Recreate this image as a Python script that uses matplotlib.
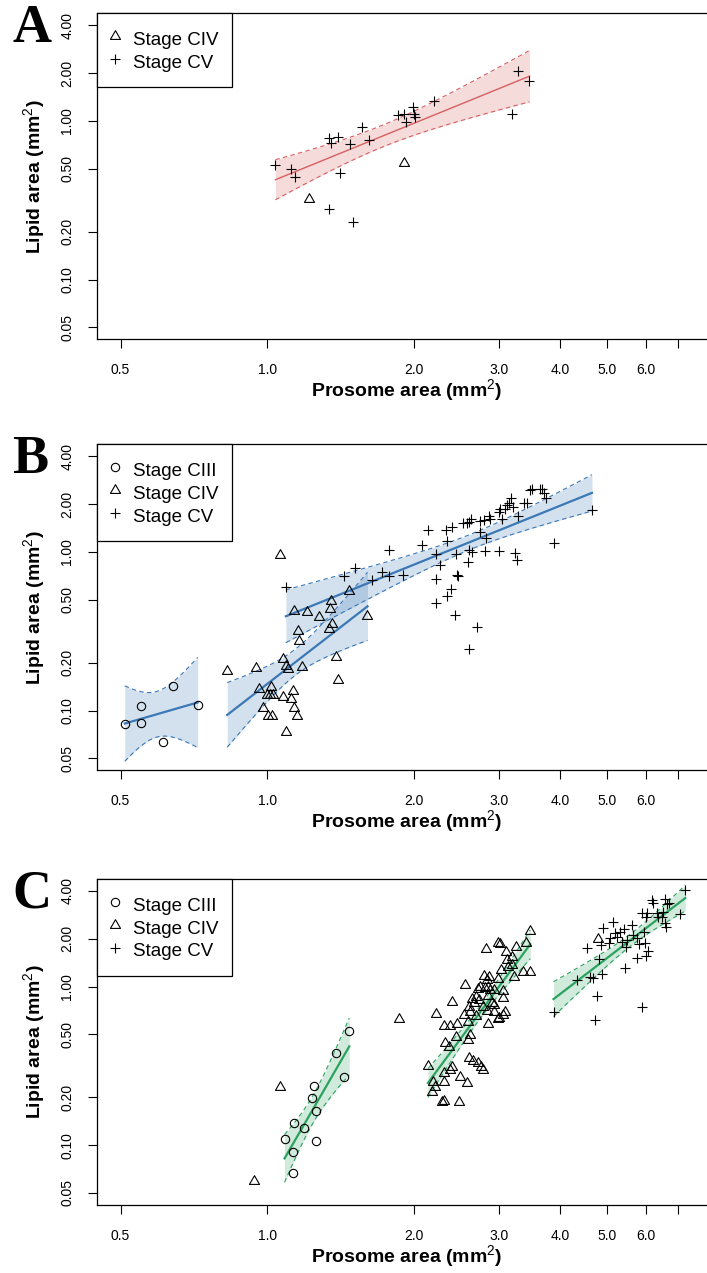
import numpy as np
import matplotlib
matplotlib.use("Agg")
import matplotlib.pyplot as plt
from matplotlib.lines import Line2D
from matplotlib.path import Path
from matplotlib.ticker import NullLocator
from math import lgamma, pi, sqrt

plt.rcParams['font.family'] = ['Liberation Sans', 'DejaVu Sans']
plt.rcParams['mathtext.fontset'] = 'custom'
plt.rcParams['mathtext.rm'] = 'Liberation Sans'

# ---- data (prosome area, lipid area; mm^2) ----
# Panel A
a_civ_x = [1.22, 1.91]
a_civ_y = [0.32, 0.54]
a_cv_x = [1.04, 1.12, 1.14, 1.34, 1.35, 1.40, 1.41, 1.48, 1.57, 1.62, 1.34, 1.50,
          1.86, 1.91, 1.93, 1.99, 2.00, 2.01, 2.20, 3.28, 3.46, 3.19]
a_cv_y = [0.53, 0.50, 0.44, 0.78, 0.73, 0.79, 0.47, 0.71, 0.91, 0.76, 0.28, 0.23,
          1.09, 1.11, 0.99, 1.22, 1.11, 1.06, 1.34, 2.07, 1.77, 1.10]

# Panel B
b_ciii_x = [0.51, 0.55, 0.55, 0.64, 0.61, 0.72]
b_ciii_y = [0.082, 0.106, 0.084, 0.143, 0.063, 0.109]
b_civ_x = [1.061, 0.828, 0.947, 0.962, 0.979, 1.004, 1.022, 1.000, 1.015, 1.027, 1.021, 1.076,
           1.092, 1.104, 1.092, 1.077, 1.122, 1.131, 1.134, 1.151, 1.138, 1.156, 1.164, 1.180,
           1.208, 1.280, 1.340, 1.345, 1.353, 1.359, 1.385, 1.397, 1.473, 1.608]
b_civ_y = [0.953, 0.178, 0.185, 0.137, 0.103, 0.092, 0.093, 0.126, 0.126, 0.126, 0.140, 0.211,
           0.192, 0.183, 0.073, 0.122, 0.118, 0.132, 0.103, 0.092, 0.425, 0.315, 0.275, 0.189,
           0.420, 0.390, 0.327, 0.434, 0.488, 0.349, 0.217, 0.155, 0.569, 0.392]
b_cv_x = [1.093, 1.440, 1.517, 1.642, 1.721, 1.782, 1.784, 1.901, 2.083, 2.146, 2.223, 2.268,
          2.220, 2.220, 2.333, 2.337, 2.337, 2.397, 2.389, 2.427, 2.446, 2.455, 2.466, 2.573,
          2.602, 2.622, 2.605, 2.635, 2.585, 2.732, 2.741, 2.784, 2.806, 2.820, 2.851, 2.873,
          2.989, 2.989, 3.013, 3.037, 3.085, 3.110, 3.148, 3.169, 3.199, 3.234, 3.261, 3.285,
          3.364, 3.419, 3.473, 3.501, 3.640, 3.669, 3.698, 3.740, 3.877, 4.650, 2.600, 2.696,
          2.532]
b_cv_y = [0.603, 0.703, 0.789, 0.663, 0.745, 0.703, 1.025, 0.717, 1.108, 1.370, 0.963, 0.821,
          0.677, 0.473, 1.370, 1.168, 0.526, 1.439, 0.586, 0.399, 0.963, 0.710, 0.703, 1.525,
          1.538, 1.600, 1.025, 1.000, 0.861, 1.561, 1.331, 1.584, 1.010, 1.227, 1.679, 1.617,
          1.010, 1.779, 1.850, 1.600, 1.869, 1.961, 2.039, 2.192, 1.924, 0.977, 0.887, 1.679,
          2.039, 2.018, 2.448, 2.473, 2.473, 2.498, 2.357, 2.192, 1.141, 1.831, 0.245, 0.337,
          1.510]

# Panel C
c_ciii_x = [1.475, 1.385, 1.440, 1.251, 1.236, 1.260, 1.137, 1.188, 1.086, 1.130, 1.261, 1.128]
c_ciii_y = [0.524, 0.383, 0.270, 0.236, 0.198, 0.164, 0.139, 0.129, 0.109, 0.091, 0.106, 0.067]
c_civ_x = [2.226, 2.404, 2.553, 2.741, 2.711, 2.635, 2.689, 2.664, 2.605, 2.614, 2.311, 2.378,
           2.461, 2.585, 2.614, 2.593, 2.446, 2.322, 2.359, 2.601, 2.648, 2.706, 2.140, 2.397,
           2.378, 2.311, 2.311, 2.485, 2.573, 2.197, 2.215, 2.181, 2.286, 2.311, 2.474, 2.544,
           2.754, 2.776, 2.816, 2.981, 3.004, 3.095, 3.245, 3.110, 3.119, 3.022, 2.784, 2.860,
           2.806, 2.837, 3.219, 3.060, 3.046, 2.919, 2.776, 2.829, 3.085, 3.060, 2.981, 2.837,
           3.402, 3.473, 3.473, 3.354, 3.184, 2.929, 2.873, 2.829, 2.897, 2.989, 2.975, 3.184,
           2.728, 2.689, 2.929, 2.847]
c_civ_y = [0.668, 0.802, 1.022, 0.988, 0.960, 0.830, 0.862, 0.784, 0.740, 0.694, 0.566, 0.566,
           0.578, 0.600, 0.495, 0.460, 0.483, 0.439, 0.418, 0.353, 0.339, 0.328, 0.316, 0.312,
           0.298, 0.284, 0.251, 0.270, 0.248, 0.251, 0.234, 0.217, 0.188, 0.190, 0.188, 0.661,
           0.312, 0.298, 1.716, 1.872, 1.853, 1.657, 1.781, 1.469, 1.333, 1.270, 1.165, 1.143,
           0.974, 0.988, 1.153, 0.941, 0.843, 0.765, 0.740, 0.704, 0.694, 0.661, 0.621, 0.578,
           1.888, 2.247, 1.229, 1.229, 1.366, 0.950, 0.950, 1.099, 0.784, 0.630, 1.115, 1.527,
           0.822, 0.652, 0.691, 0.871]
# CIV points left out of the regression
c_civ_out_x = [1.064, 0.938, 1.865, 4.774]
c_civ_out_y = [0.232, 0.0595, 0.621, 1.984]
c_cv_x = [3.877, 4.331, 4.553, 4.597, 4.684, 4.707, 4.760, 4.813, 4.888, 4.898, 4.859, 5.029,
          5.070, 5.135, 5.191, 5.233, 5.315, 5.358, 5.399, 5.443, 5.487, 5.468, 5.617, 5.660,
          5.752, 5.796, 5.768, 5.890, 5.890, 5.935, 5.983, 6.002, 6.031, 6.010, 6.076, 6.175,
          6.221, 6.322, 6.370, 6.505, 6.474, 6.577, 6.630, 6.577, 6.608, 6.703, 7.038, 7.230]
c_cv_y = [0.688, 1.099, 1.756, 1.153, 1.126, 0.615, 0.871, 1.490, 1.194, 2.326, 1.826, 1.888,
          2.012, 2.538, 2.164, 2.060, 2.215, 1.916, 2.293, 1.302, 1.963, 1.781, 2.441, 2.111,
          2.012, 1.853, 1.505, 0.746, 2.892, 2.215, 1.872, 2.754, 2.892, 1.557, 1.674, 3.509,
          3.345, 2.892, 2.729, 2.960, 2.754, 3.544, 3.311, 2.523, 2.381, 3.373, 2.851, 4.056]

x_ticks = [0.5, 1, 2, 3, 4, 5, 6, 7]
x_labels = ['0.5', '1.0', '2.0', '3.0', '4.0', '5.0', '6.0', '']
y_ticks = [0.05, 0.1, 0.2, 0.5, 1, 2, 4]
y_labels = ['0.05', '0.10', '0.20', '0.50', '1.00', '2.00', '4.00']

RED = '#D65F5F'
BLUE = '#3B78B6'
GREEN = '#2CA25F'

W, H = 707, 1273
fig = plt.figure(figsize=(W / 100, H / 100), dpi=100)

xlim = (0.447, 8.5)
ylim = (0.042, 4.76)
ax_w = 486.7 * np.log10(xlim[1] / xlim[0])
ax_h = 326.0
ax_left = 96.9

# open triangle like R's pch = 2
tri = Path([(0, 1), (-0.866, -0.5), (0.866, -0.5), (0, 1)],
           [Path.MOVETO, Path.LINETO, Path.LINETO, Path.CLOSEPOLY])
mk = {
    'CIII': dict(marker='o', ms=6.0),
    'CIV': dict(marker=tri, ms=8.4),
    'CV': dict(marker='+', ms=7.6),
}


def t_crit(df, p=0.975):
    xs = np.linspace(0, 12, 24001)
    c = np.exp(lgamma((df + 1) / 2) - lgamma(df / 2)) / sqrt(df * pi)
    pdf = c * (1 + xs ** 2 / df) ** (-(df + 1) / 2)
    cdf = 0.5 + np.concatenate([[0], np.cumsum((pdf[1:] + pdf[:-1]) / 2 * np.diff(xs))])
    return np.interp(p, cdf, xs)


def draw_fit(ax, x, y, color, lw):
    # log-log least squares fit with 95% confidence band
    lx, ly = np.log10(x), np.log10(y)
    n = len(lx)
    b, a = np.polyfit(lx, ly, 1)
    s = sqrt(np.sum((ly - (a + b * lx)) ** 2) / (n - 2))
    gx = np.linspace(lx.min(), lx.max(), 120)
    se = s * np.sqrt(1 / n + (gx - lx.mean()) ** 2 / np.sum((lx - lx.mean()) ** 2))
    t = t_crit(n - 2)
    fit = a + b * gx
    lo, hi = fit - t * se, fit + t * se
    ax.fill_between(10 ** gx, 10 ** lo, 10 ** hi, color=color, alpha=0.22, lw=0, zorder=1)
    ax.plot(10 ** gx, 10 ** lo, color=color, lw=0.8, ls=(0, (4, 3)), zorder=2)
    ax.plot(10 ** gx, 10 ** hi, color=color, lw=0.8, ls=(0, (4, 3)), zorder=2)
    ax.plot(10 ** gx, 10 ** fit, color=color, lw=lw, zorder=3)


def points(ax, x, y, stage):
    ax.plot(x, y, ls='none', mfc='none', mec='black', mew=0.8, zorder=4, **mk[stage])


def setup(top, letter, stages):
    ax = fig.add_axes([ax_left / W, 1 - (top + ax_h) / H, ax_w / W, ax_h / H])
    ax.set_xscale('log')
    ax.set_yscale('log')
    ax.set_xlim(xlim)
    ax.set_ylim(ylim)
    ax.set_xticks(x_ticks)
    ax.set_xticklabels(x_labels)
    ax.set_yticks(y_ticks)
    ax.set_yticklabels(y_labels)
    ax.xaxis.set_minor_locator(NullLocator())
    ax.yaxis.set_minor_locator(NullLocator())
    ax.tick_params(direction='out', length=6.8, width=0.8, labelsize=10)
    ax.tick_params(axis='x', pad=10.5)
    ax.tick_params(axis='y', pad=9.5, labelrotation=90)
    for lab in ax.get_yticklabels():
        lab.set_va('center')
    for sp in ax.spines.values():
        sp.set_linewidth(0.9)
    ax.set_xlabel(r'Prosome area (mm$^{2}$)', fontsize=14, fontweight='bold', va='center')
    ax.xaxis.set_label_coords((407 - ax_left) / ax_w, -51.4 / ax_h)
    ax.set_ylabel(r'Lipid area (mm$^{2}$)', fontsize=14, fontweight='bold', va='center')
    ax.yaxis.set_label_coords((35 - ax_left) / ax_w, 0.5)
    fig.text(12.5 / W, 1 - (top + 29) / H, letter, fontsize=39, fontweight='bold',
             family=['Liberation Serif', 'DejaVu Serif'], va='baseline', ha='left')
    handles = [Line2D([], [], ls='none', mfc='none', mec='black', mew=0.8, **mk[s]) for s in stages]
    leg = ax.legend(handles, ['Stage ' + s for s in stages], loc='upper left',
                    bbox_to_anchor=(0, 1), borderaxespad=0, fancybox=False, framealpha=1,
                    edgecolor='black', fontsize=13.5, borderpad=0.75, handlelength=0.4,
                    handleheight=1.5, handletextpad=0.75, labelspacing=0, numpoints=1)
    leg.get_frame().set_linewidth(0.9)
    leg.set_zorder(10)
    return ax


# Panel A
ax = setup(13.3, 'A', ['CIV', 'CV'])
draw_fit(ax, a_cv_x, a_cv_y, RED, 1.0)
points(ax, a_civ_x, a_civ_y, 'CIV')
points(ax, a_cv_x, a_cv_y, 'CV')

# Panel B
ax = setup(444.3, 'B', ['CIII', 'CIV', 'CV'])
draw_fit(ax, b_ciii_x, b_ciii_y, BLUE, 1.6)
draw_fit(ax, b_civ_x, b_civ_y, BLUE, 1.6)
draw_fit(ax, b_cv_x, b_cv_y, BLUE, 1.6)
points(ax, b_ciii_x, b_ciii_y, 'CIII')
points(ax, b_civ_x, b_civ_y, 'CIV')
points(ax, b_cv_x, b_cv_y, 'CV')

# Panel C
ax = setup(879.0, 'C', ['CIII', 'CIV', 'CV'])
draw_fit(ax, c_ciii_x, c_ciii_y, GREEN, 1.6)
draw_fit(ax, c_civ_x, c_civ_y, GREEN, 1.6)
draw_fit(ax, c_cv_x, c_cv_y, GREEN, 1.6)
points(ax, c_ciii_x, c_ciii_y, 'CIII')
points(ax, c_civ_x, c_civ_y, 'CIV')
points(ax, c_civ_out_x, c_civ_out_y, 'CIV')
points(ax, c_cv_x, c_cv_y, 'CV')

fig.savefig('out.png', dpi=100)
